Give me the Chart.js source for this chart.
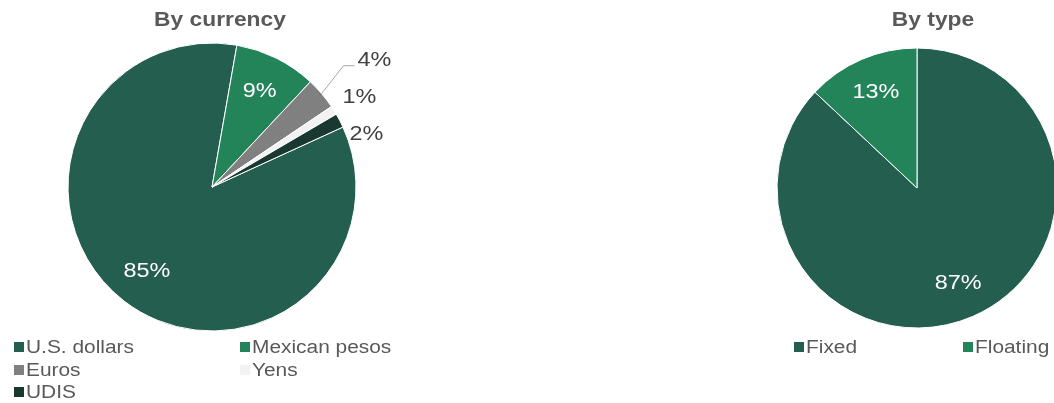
<!DOCTYPE html>
<html>
<head>
<meta charset="utf-8">
<script src="https://cdn.jsdelivr.net/npm/chart.js@4"></script>
<style>
  html, body { margin: 0; padding: 0; width: 1054px; height: 403px; overflow: hidden; background: #fff; }
  body { position: relative; font-family: "Liberation Sans", Arial, sans-serif; }
  canvas { position: absolute; top: 0; }
  .title { position: absolute; top: 9.5px; font-size: 19.5px; line-height: 1; font-weight: bold; color: #595959;
           white-space: nowrap; transform: translateX(-50%) scaleX(1.17); }
  .legend-item { position: absolute; font-size: 18px; line-height: 1; color: #595959; white-space: nowrap; }
  .legend-item .box { position: absolute; left: 0; top: 4px; width: 10px; height: 10px; }
  .legend-item .txt { position: absolute; left: 12px; top: 0; display: inline-block; transform: scaleX(1.16); transform-origin: left; }
</style>
</head>
<body>
<canvas id="currency" width="440" height="403" style="left:0;width:440px;height:403px"></canvas>
<canvas id="type" width="460" height="403" style="left:640px;width:460px;height:403px"></canvas>
<div class="title" style="left:219.5px">By currency</div>
<div class="title" style="left:933px">By type</div>
<div id="legend-currency"></div>
<div id="legend-type"></div>
<script>
const currencyLabels = ["U.S. dollars", "Mexican pesos", "Euros", "Yens", "UDIS"];
const currencyShares = [84.6, 9.2, 3.6, 1.0, 1.6];
const currencyColors = ["#235E4F", "#23845A", "#808080", "#F2F2F2", "#19382F"];

const typeLabels = ["Fixed", "Floating"];
const typeShares = [87, 13];
const typeColors = ["#235E4F", "#23845A"];

const FONT = '20px "Liberation Sans", Arial, sans-serif';
const STRETCH = 1.17;

function drawText(ctx, text, x, y, color) {
  ctx.save();
  ctx.translate(x, y);
  ctx.scale(STRETCH, 1);
  ctx.fillStyle = color;
  ctx.fillText(text, 0, 0);
  ctx.restore();
}

// percent labels: big slices inside, small ones outside stacked on the right
const pctLabels = {
  id: "pctLabels",
  afterDatasetsDraw(chart) {
    const ctx = chart.ctx;
    const meta = chart.getDatasetMeta(0);
    const values = chart.data.datasets[0].data;
    const total = values.reduce((a, b) => a + b, 0);
    const outside = [];

    ctx.save();
    ctx.font = FONT;
    ctx.textAlign = "center";
    ctx.textBaseline = "middle";

    meta.data.forEach((arc, i) => {
      const { x, y, startAngle, endAngle, outerRadius } =
        arc.getProps(["x", "y", "startAngle", "endAngle", "outerRadius"], true);
      const mid = (startAngle + endAngle) / 2;
      const pct = values[i] / total * 100;
      const text = Math.round(pct) + "%";
      if (pct >= 5) {
        const r = outerRadius * 0.74;
        drawText(ctx, text, x + Math.cos(mid) * r, y + Math.sin(mid) * r, "#FFFFFF");
      } else {
        const r = outerRadius + 30;
        outside.push({ text, mid, cx: x, cy: y, R: outerRadius,
                       lx: x + Math.cos(mid) * r, ly: y + Math.sin(mid) * r });
      }
    });

    if (outside.length) {
      const gap = 37;
      outside.sort((a, b) => a.ly - b.ly);
      const mean = outside.reduce((s, o) => s + o.ly, 0) / outside.length + 6;
      outside.forEach((o, k) => {
        const ny = mean + (k - (outside.length - 1) / 2) * gap;
        const ex = o.cx + Math.cos(o.mid) * o.R;
        const ey = o.cy + Math.sin(o.mid) * o.R;
        let nx = o.lx;
        const far = Math.hypot(nx - ex, ny - ey) > 38;
        if (far) {
          nx += 30;
          const w = ctx.measureText(o.text).width * STRETCH;
          const left = nx - w / 2;
          ctx.beginPath();
          ctx.strokeStyle = "#A6A6A6";
          ctx.lineWidth = 1;
          ctx.moveTo(ex, ey);
          ctx.lineTo(left - 14, ny + 5);
          ctx.lineTo(left - 3, ny + 5);
          ctx.stroke();
        }
        drawText(ctx, o.text, nx, ny, "#404040");
      });
    }
    ctx.restore();
  }
};

function makePie(id, labels, values, colors, rotation, radius, padding) {
  return new Chart(document.getElementById(id), {
    type: "pie",
    data: {
      labels,
      datasets: [{
        data: values,
        backgroundColor: colors,
        borderColor: "#FFFFFF",
        borderWidth: 1,
        hoverOffset: 0
      }]
    },
    options: {
      responsive: false,
      animation: false,
      events: [],
      rotation,
      radius,
      layout: { padding },
      plugins: {
        legend: { display: false },
        title: { display: false },
        tooltip: { enabled: false }
      }
    },
    plugins: [pctLabels]
  });
}

makePie("currency", currencyLabels, currencyShares, currencyColors, 65.4, 144,
  { left: 68, top: 43, right: 84, bottom: 72 });
makePie("type", typeLabels, typeShares, typeColors, 0, 140,
  { left: 137, top: 48, right: 43, bottom: 75 });

// html legends
function buildLegend(holderId, labels, colors, cols, x0, colStep) {
  const holder = document.getElementById(holderId);
  labels.forEach((label, i) => {
    const row = Math.floor(i / cols);
    const col = i % cols;
    const item = document.createElement("div");
    item.className = "legend-item";
    item.style.left = (x0 + col * colStep) + "px";
    item.style.top = (338.3 + row * 22.2) + "px";
    item.innerHTML = '<span class="box" style="background:' + colors[i] + '"></span><span class="txt"></span>';
    item.querySelector(".txt").textContent = label;
    holder.appendChild(item);
  });
}

buildLegend("legend-currency", currencyLabels, currencyColors, 2, 14, 226);
buildLegend("legend-type", typeLabels, typeColors, 2, 794, 169);
</script>
</body>
</html>
